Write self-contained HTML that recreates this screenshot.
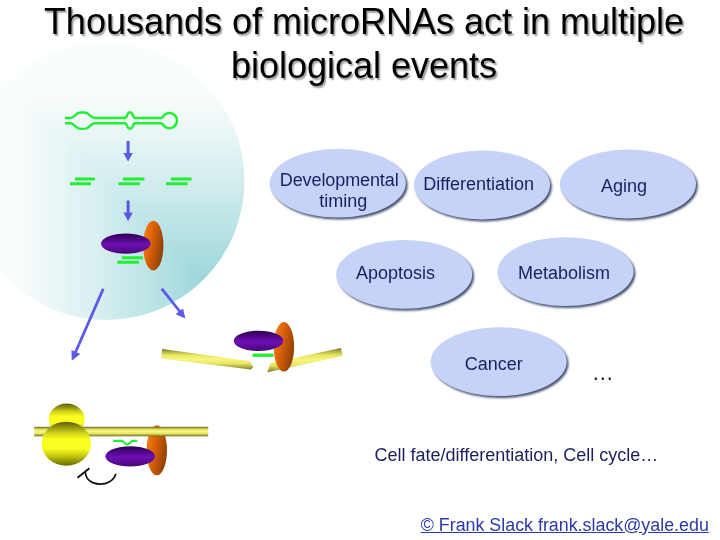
<!DOCTYPE html>
<html><head><meta charset="utf-8">
<style>
html,body{margin:0;padding:0;background:#fff;}
body{width:720px;height:540px;overflow:hidden;position:relative;font-family:"Liberation Sans",sans-serif;}
svg{position:absolute;left:0;top:0;}
.t{position:absolute;white-space:nowrap;font-size:18px;line-height:20px;color:#1b1f5e;}
.c{transform:translateX(-50%);text-align:center;}
.t,#title{will-change:opacity;opacity:0.999;}
#title{position:absolute;left:8px;top:0px;width:712px;text-align:center;font-size:36px;line-height:43.5px;color:#000;text-shadow:1.6px 1.6px 1.6px rgba(100,100,100,0.65);}
</style></head><body>
<svg width="720" height="540" viewBox="0 0 720 540">
<defs>
<linearGradient id="gch" gradientUnits="userSpaceOnUse" x1="244.5" y1="0" x2="-32.5" y2="0"><stop offset="0.00" stop-color="#83ccd1"/><stop offset="0.05" stop-color="#8cd0d4"/><stop offset="0.10" stop-color="#94d3d7"/><stop offset="0.15" stop-color="#9dd7da"/><stop offset="0.20" stop-color="#a5dade"/><stop offset="0.25" stop-color="#addde1"/><stop offset="0.30" stop-color="#b5e1e3"/><stop offset="0.35" stop-color="#bde4e6"/><stop offset="0.40" stop-color="#c4e7e9"/><stop offset="0.45" stop-color="#cceaec"/><stop offset="0.50" stop-color="#d3edee"/><stop offset="0.55" stop-color="#daf0f1"/><stop offset="0.60" stop-color="#e0f2f3"/><stop offset="0.65" stop-color="#e6f5f6"/><stop offset="0.70" stop-color="#ecf7f8"/><stop offset="0.75" stop-color="#f2fafa"/><stop offset="0.80" stop-color="#f7fcfc"/><stop offset="0.85" stop-color="#fafdfd"/><stop offset="0.90" stop-color="#fafdfd"/><stop offset="0.95" stop-color="#fafdfd"/><stop offset="1.00" stop-color="#fafdfd"/></linearGradient>
<linearGradient id="gcv" gradientUnits="userSpaceOnUse" x1="0" y1="320" x2="0" y2="42"><stop offset="0.00" stop-color="#83ccd1"/><stop offset="0.05" stop-color="#8cd0d4"/><stop offset="0.10" stop-color="#94d3d7"/><stop offset="0.15" stop-color="#9dd7da"/><stop offset="0.20" stop-color="#a5dade"/><stop offset="0.25" stop-color="#addde1"/><stop offset="0.30" stop-color="#b5e1e3"/><stop offset="0.35" stop-color="#bde4e6"/><stop offset="0.40" stop-color="#c4e7e9"/><stop offset="0.45" stop-color="#cceaec"/><stop offset="0.50" stop-color="#d3edee"/><stop offset="0.55" stop-color="#daf0f1"/><stop offset="0.60" stop-color="#e0f2f3"/><stop offset="0.65" stop-color="#e6f5f6"/><stop offset="0.70" stop-color="#ecf7f8"/><stop offset="0.75" stop-color="#f2fafa"/><stop offset="0.80" stop-color="#f7fcfc"/><stop offset="0.85" stop-color="#fafdfd"/><stop offset="0.90" stop-color="#fafdfd"/><stop offset="0.95" stop-color="#fafdfd"/><stop offset="1.00" stop-color="#fafdfd"/></linearGradient>
<clipPath id="cc"><ellipse cx="106" cy="181" rx="138.5" ry="139"/></clipPath>
<linearGradient id="gp" x1="0" y1="0" x2="0" y2="1">
<stop offset="0" stop-color="#2a0050"/><stop offset="0.55" stop-color="#700eb6"/><stop offset="1" stop-color="#440878"/>
</linearGradient>
<linearGradient id="go" x1="0" y1="0.25" x2="1" y2="0.7">
<stop offset="0" stop-color="#fa7c12"/><stop offset="0.35" stop-color="#df640a"/><stop offset="1" stop-color="#8a3c06"/>
</linearGradient>
<linearGradient id="gy" x1="0" y1="0" x2="0" y2="1"><stop offset="0" stop-color="#5e5e0a"/><stop offset="0.12" stop-color="#90900e"/><stop offset="0.26" stop-color="#d0d41a"/><stop offset="0.4" stop-color="#fafd20"/><stop offset="0.62" stop-color="#fafd20"/><stop offset="0.78" stop-color="#c4c810"/><stop offset="0.9" stop-color="#909204"/><stop offset="1" stop-color="#6a6a00"/></linearGradient>
<linearGradient id="gb" x1="0" y1="0" x2="0" y2="1"><stop offset="0" stop-color="#605a22"/><stop offset="0.12" stop-color="#a8a43c"/><stop offset="0.3" stop-color="#e6e662"/><stop offset="0.5" stop-color="#f8f680"/><stop offset="0.7" stop-color="#e6e662"/><stop offset="0.88" stop-color="#a8a43c"/><stop offset="1" stop-color="#6a6426"/></linearGradient>
<linearGradient id="gb1" gradientUnits="userSpaceOnUse" x1="0" y1="348.6" x2="0" y2="370"><stop offset="0" stop-color="#605a22"/><stop offset="0.12" stop-color="#a8a43c"/><stop offset="0.3" stop-color="#e6e662"/><stop offset="0.5" stop-color="#f8f680"/><stop offset="0.7" stop-color="#e6e662"/><stop offset="0.88" stop-color="#a8a43c"/><stop offset="1" stop-color="#6a6426"/></linearGradient>
<linearGradient id="gb2" gradientUnits="userSpaceOnUse" x1="0" y1="347.6" x2="0" y2="372.8"><stop offset="0" stop-color="#605a22"/><stop offset="0.12" stop-color="#a8a43c"/><stop offset="0.3" stop-color="#e6e662"/><stop offset="0.5" stop-color="#f8f680"/><stop offset="0.7" stop-color="#e6e662"/><stop offset="0.88" stop-color="#a8a43c"/><stop offset="1" stop-color="#6a6426"/></linearGradient>
<filter id="sh" x="-10%" y="-10%" width="125%" height="125%"><feGaussianBlur stdDeviation="0.9"/></filter>
<g id="bub"><ellipse cx="1.8" cy="2" rx="68" ry="34.4" fill="#465272" filter="url(#sh)"/><ellipse cx="0" cy="0" rx="68" ry="34.4" fill="#c6d3f8"/></g>
<g id="cx"><ellipse cx="27.5" cy="2" rx="10.1" ry="24.9" fill="url(#go)"/><ellipse cx="0" cy="0" rx="24.8" ry="10.1" fill="url(#gp)"/></g>
</defs>
<!-- big cell circle -->
<g clip-path="url(#cc)"><polygon points="-33.5,39.5 -33.5,321 247,321" fill="url(#gch)"/><polygon points="-33.5,41 245.5,41 245.5,321" fill="url(#gcv)"/></g>
<!-- hairpin -->
<g fill="none" stroke="#22ee33" stroke-width="2.4" stroke-linejoin="round" stroke-linecap="butt">
<path d="M65 118 H70.5 C74.5 118 75.5 112.5 80.5 112.5 H84.5 C89.5 112.5 90.5 118 94.5 118 H125 C127.3 118 126.9 112.5 129.2 112.5 H130.8 C133.1 112.5 132.7 118 135 118 H162.2"/>
<path d="M65 123.2 H70.5 C74.5 123.2 75.5 128.9 80.5 128.9 H84.5 C89.5 128.9 90.5 123.2 94.5 123.2 H125 C127.3 123.2 126.9 128.5 129.2 128.5 H130.8 C133.1 128.5 132.7 123.2 135 123.2 H162.2"/>
<path d="M162.2 118 A7.6 7.6 0 1 1 162.2 123.2"/>
</g>
<!-- duplexes -->
<g stroke="#22ee33" stroke-width="3">
<path d="M75 179 H95 M70 183.8 H91"/>
<path d="M123 179 H144.4 M118.5 183.8 H139.8"/>
<path d="M171 179 H191.5 M166 183.8 H187.5"/>
<path d="M121.7 257.8 H142.8 M117.2 262.3 H138.9"/>
</g>
<!-- arrows -->
<g fill="#5a5ae6" stroke="none">
<path d="M126.6 141 h3 v12 h3.2 l-4.7 8.6 l-4.7 -8.6 h3.2z"/>
<path d="M126.6 200.4 h3 v12.2 h3.2 l-4.7 8.6 l-4.7 -8.6 h3.2z"/>
</g>
<g stroke="#5a5ae6" stroke-width="2.8" fill="#5a5ae6">
<line x1="103.3" y1="288.7" x2="75" y2="353.5"/>
<path d="M71.7 360.8 L71.5 350 L80.3 353.9z" stroke="none"/>
<line x1="161.7" y1="288.7" x2="181" y2="313"/>
<path d="M185.4 318.6 L175.6 314.2 L183 308.4z" stroke="none"/>
</g>
<!-- complex 1 -->
<use href="#cx" x="125.8" y="243.6"/>
<!-- complex 2 with cleaved bar -->
<g>
<path d="M162.1 349.1 L250 361.1 L253.3 367.1 L250.8 369.6 L161.3 358.5z" fill="url(#gb1)"/>
<path d="M341 348.1 L342.6 356 L267.3 372.3 L270.5 363z" fill="url(#gb2)"/>
<ellipse cx="283.9" cy="346.8" rx="10.2" ry="24.8" fill="url(#go)"/>
<ellipse cx="258.5" cy="340.8" rx="24.8" ry="10.1" fill="url(#gp)"/>
<path d="M252.5 355.2 H273.5" stroke="#22ee33" stroke-width="3.4"/>
</g>
<!-- complex 3 ribosome -->
<g>
<ellipse cx="66.7" cy="419.3" rx="18" ry="15.7" fill="url(#gy)"/>
<ellipse cx="156.8" cy="450.3" rx="10.2" ry="25" fill="url(#go)"/>
<rect x="34.2" y="426.8" width="174" height="9.5" fill="url(#gb)"/>
<ellipse cx="66.3" cy="443.7" rx="24.7" ry="22" fill="url(#gy)"/>
<ellipse cx="130.2" cy="456.3" rx="24.8" ry="10.1" fill="url(#gp)"/>
<path d="M113.2 440.8 H121.3 C124.2 440.8 123.6 444.3 127.2 444.3 C130.8 444.3 130.2 440.8 133.1 440.8 H137.3" fill="none" stroke="#22ee33" stroke-width="2.3"/>
<path d="M85.3 471.7 C86 488 112 488 115.8 473.7" fill="none" stroke="#111" stroke-width="1.7"/>
<path d="M77.5 477.8 L89.4 468.3" stroke="#111" stroke-width="1.9"/>
</g>
<!-- bubbles -->
<use href="#bub" x="337.8" y="183.2"/>
<use href="#bub" x="482" y="185"/>
<use href="#bub" x="628" y="184"/>
<use href="#bub" x="404.2" y="274.4"/>
<use href="#bub" x="565.6" y="271.6"/>
<use href="#bub" x="498.7" y="361.7"/>
</svg>
<div id="title">Thousands of microRNAs act in multiple<br>biological events</div>
<div class="t c" style="left:339.2px;top:169.7px;line-height:21.6px;"><span style="letter-spacing:-0.1px">Developmental</span><br><span style="position:relative;left:4px">timing</span></div>
<div class="t c" style="left:478.6px;top:174.4px;">Differentiation</div>
<div class="t c" style="left:624px;top:175.8px;">Aging</div>
<div class="t c" style="left:395.6px;top:263px;">Apoptosis</div>
<div class="t c" style="left:564px;top:263px;">Metabolism</div>
<div class="t c" style="left:493.7px;top:354px;">Cancer</div>
<div class="t" style="left:591.7px;top:359.7px;font-size:22px;line-height:25px;color:#222;">…</div>
<div class="t" style="left:374.5px;top:445px;">Cell fate/differentiation, Cell cycle…</div>
<div class="t" style="left:420.7px;top:514.5px;color:#2b3aa8;text-decoration:underline;font-size:17.85px;">© Frank Slack frank.slack@yale.edu</div>
</body></html>
